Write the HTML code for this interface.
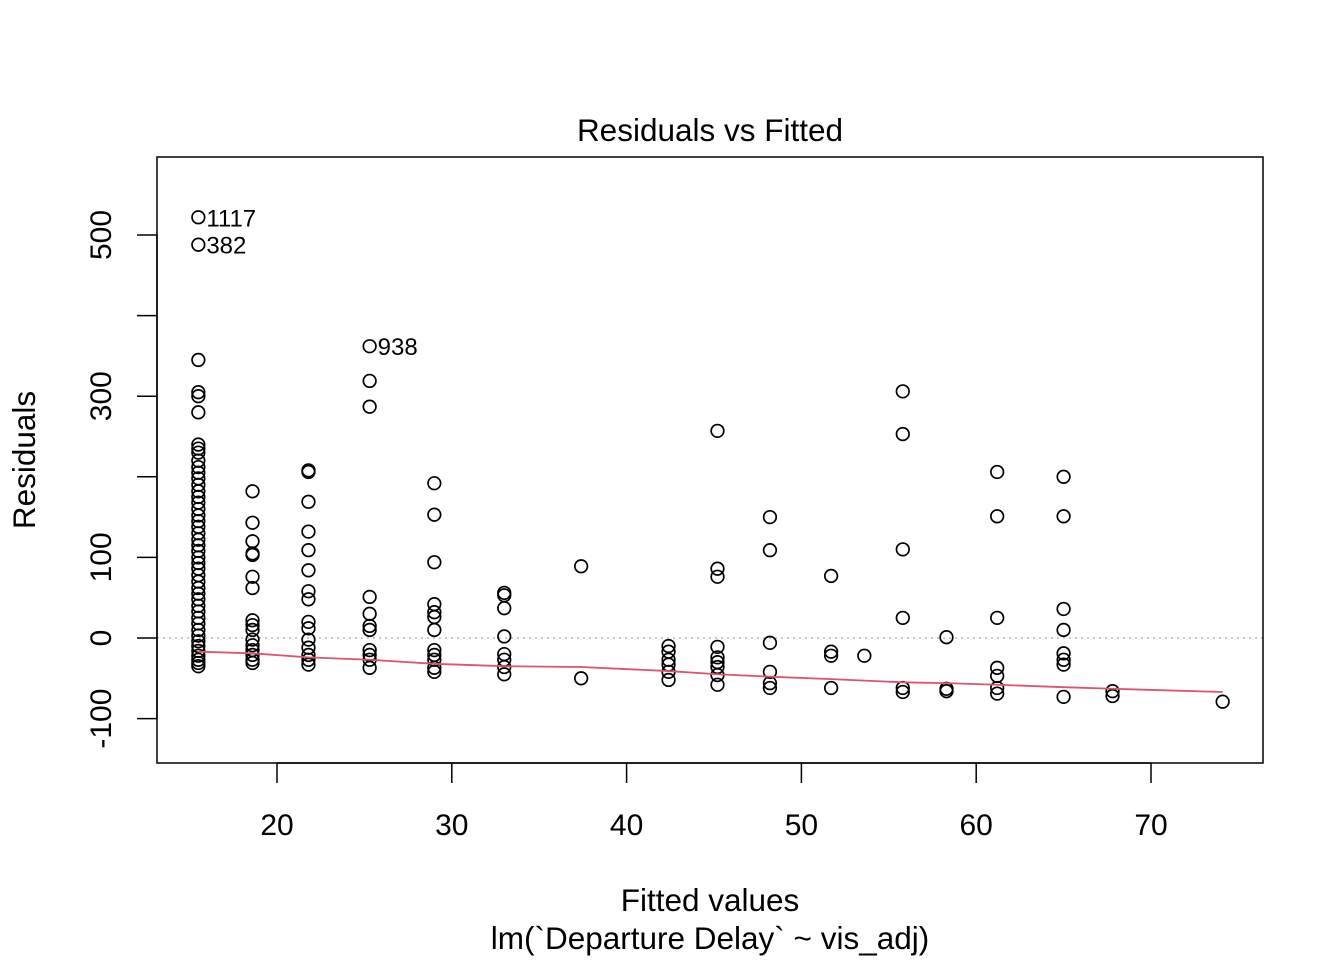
<!DOCTYPE html>
<html><head><meta charset="utf-8"><style>
body{margin:0;background:#fff;}
svg text{font-family:"Liberation Sans",Arial,sans-serif;fill:#000;}
</style></head><body>
<svg id="chart" width="1344" height="960" xmlns="http://www.w3.org/2000/svg">
<rect x="0" y="0" width="1344" height="960" fill="#fff"/>
</svg>
<script>
const colX = [15.5,18.6,21.8,25.3,29.0,33.0,37.4,42.4,45.2,48.2,51.7,53.6,55.8,58.3,61.2,65.0,67.8,74.1];
const colResiduals = [
 [522,488,345,305,300,280,240,235,230,220,212,205,198,190,182,175,168,160,152,145,138,130,122,115,108,100,93,86,78,70,62,55,48,40,33,25,18,10,3,-4,-10,-16,-22,-27,-31,-35],
 [182,143,120,105,103,76,62,22,16,10,-2,-9,-15,-21,-27,-31],
 [208,206,169,132,109,84,58,48,20,12,-2,-12,-21,-27,-33],
 [362,319,287,51,30,15,10,-15,-21,-27,-37],
 [192,153,94,42,32,26,10,-15,-21,-27,-37,-42],
 [56,53,37,2,-20,-27,-36,-45],
 [89,-50],
 [-10,-17,-27,-33,-42,-52],
 [257,86,76,-11,-24,-30,-36,-46,-58],
 [150,109,-6,-42,-56,-62],
 [77,-17,-22,-62],
 [-22],
 [306,253,110,25,-62,-67],
 [1,-63,-66],
 [206,151,25,-37,-47,-62,-69],
 [200,151,36,10,-19,-27,-33,-73],
 [-66,-72],
 [-79]
];
const smoothX = [15.5,18.6,21.8,25.3,29,33,37.4,42.4,45.2,48.2,51.7,55.8,58.3,61.2,65,67.8,74.1];
const smoothY = [-17,-19,-24,-27,-32,-35,-36,-41,-45,-48,-51,-55,-56,-58,-61,-63,-67];
const xTicks = [20,30,40,50,60,70];
const yTicks = [-100,0,100,200,300,400,500];
const yLabels = [-100,0,100,300,500];
const outlierLabels = [["1117",15.5,522],["382",15.5,488],["938",25.3,362]];

const NS="http://www.w3.org/2000/svg";
const svg=document.getElementById('chart');
const sx=v=>277+(v-20)*17.48;
const sy=v=>638-v*0.806;
function mk(t,a,txt){const e=document.createElementNS(NS,t);for(const k in a)e.setAttribute(k,a[k]);if(txt!=null)e.textContent=txt;svg.appendChild(e);return e;}

let e=mk('line',{x1:157,x2:1263,y1:sy(0),y2:sy(0),stroke:'#aaa','stroke-width':1.3,'stroke-dasharray':'2 4'});


colX.forEach((xv,i)=>colResiduals[i].forEach(r=>{
 const c=mk('circle',{cx:sx(xv),cy:sy(r),r:6.3,fill:'none',stroke:'#000','stroke-width':1.7});
 
 
}));
e=mk('polyline',{points:smoothX.map((x,i)=>sx(x)+','+sy(smoothY[i])).join(' '),fill:'none',stroke:'#DF536B','stroke-width':1.8});


outlierLabels.forEach(o=>{
 const t=mk('text',{x:sx(o[1])+8,y:sy(o[2])+9,'font-size':24},o[0]);
 
 
});
e=mk('rect',{x:157,y:157,width:1106,height:606,fill:'none',stroke:'#000','stroke-width':1.5});


xTicks.forEach(v=>{
 const l=mk('line',{x1:sx(v),x2:sx(v),y1:763,y2:783,stroke:'#000','stroke-width':1.5});
 
 
 const t=mk('text',{x:sx(v),y:835,'font-size':30,'text-anchor':'middle'},String(v));
 
 
});
e=mk('line',{x1:sx(20),x2:sx(70),y1:763,y2:763,stroke:'#000','stroke-width':1.5});


yTicks.forEach(v=>{
 const l=mk('line',{x1:137,x2:157,y1:sy(v),y2:sy(v),stroke:'#000','stroke-width':1.5});
 
 
});
yLabels.forEach(v=>{
 const t=mk('text',{x:0,y:0,'font-size':30,'text-anchor':'middle',transform:`translate(111,${sy(v)}) rotate(-90)`},String(v));
 
 
});
e=mk('line',{x1:157,x2:157,y1:sy(-100),y2:sy(500),stroke:'#000','stroke-width':1.5});


e=mk('text',{x:710,y:141,'font-size':31.5,'text-anchor':'middle'},'Residuals vs Fitted');


e=mk('text',{x:710,y:911,'font-size':31.5,'text-anchor':'middle'},'Fitted values');


e=mk('text',{x:710,y:949,'font-size':31.5,'text-anchor':'middle'},'lm(`Departure Delay` ~ vis_adj)');


e=mk('text',{x:0,y:0,'font-size':31.5,'text-anchor':'middle',transform:'translate(35,460) rotate(-90)'},'Residuals');


</script>
</body></html>
